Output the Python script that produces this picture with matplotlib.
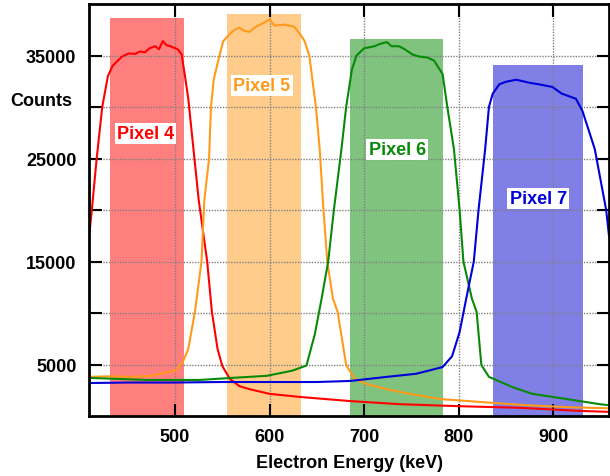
import matplotlib
matplotlib.use('Agg')
import matplotlib.pyplot as plt
from matplotlib.patches import Rectangle

plt.rcParams['font.family'] = ['Liberation Sans', 'DejaVu Sans']
plt.rcParams['font.weight'] = 'bold'

# Electron energy (keV) / counts for each pixel spectrum
red_energy = [409, 410, 412, 417, 423, 429, 434, 444, 451, 458, 463, 468, 473, 479, 483, 487, 491,
              495, 503, 507, 511, 514, 525, 534, 539, 545, 550, 558, 568, 579, 600, 632,
              685, 737, 801, 864, 927, 959]
red_counts = [17500, 18200, 20000, 24900, 30000, 33000, 34000, 34900, 35200, 35150, 35400, 35300,
              35700, 35900, 35600, 36400, 36000, 35900, 35600, 35100, 32700, 30800, 21000, 15000,
              10100, 6500, 4850, 3600, 2900, 2600, 2150, 1850, 1450, 1150, 950, 800, 500, 400]

orange_energy = [409, 430, 455, 475, 484, 500, 508, 514, 521, 528, 531, 536, 538, 541, 547,
                 551, 557, 563, 568, 573, 579, 584, 590, 600, 605, 615, 626, 633, 637, 642, 649,
                 653, 657, 661, 667, 672, 681, 690, 703, 724, 748, 780, 825, 871, 917, 959]
orange_counts = [3800, 3850, 3800, 3900, 4100, 4400, 5200, 6500, 10100, 15000, 21000, 25000,
                 30000, 32700, 35000, 36400, 37000, 37500, 37700, 37400, 37300, 37700, 38000, 38500,
                 37900, 38000, 37800, 37000, 36400, 35000, 30000, 25900, 20000, 15000, 11400, 10100,
                 4950, 3600, 3100, 2600, 2150, 1650, 1350, 1050, 850, 750]

green_energy = [409, 440, 470, 500, 526, 560, 597, 624, 639, 648, 655, 662, 668, 676, 681, 687,
                692, 700, 711, 716, 724, 729, 737, 743, 751, 758, 767, 774, 783, 788, 795, 801,
                805, 814, 819, 824, 832, 857, 878, 914, 949, 959]
green_counts = [3700, 3600, 3500, 3500, 3500, 3700, 3900, 4400, 4900, 8000, 11400, 15000, 20000,
                25900, 30000, 33600, 35000, 35700, 35900, 36100, 36300, 35900, 35900, 35600, 35100,
                34900, 34800, 34500, 33200, 30000, 25900, 20000, 15000, 11400, 10100, 4950, 3800,
                2800, 2150, 1650, 1150, 1050]

blue_energy = [409, 450, 500, 550, 600, 650, 685, 724, 755, 783, 793, 801, 808, 816, 821, 828,
               832, 836, 843, 850, 861, 875, 885, 899, 909, 924, 931, 944, 956, 959]
blue_counts = [3200, 3250, 3250, 3300, 3300, 3300, 3400, 3800, 4100, 4750, 5800, 8150, 11400,
               15000, 20000, 25900, 30000, 31300, 32200, 32450, 32650, 32350, 32200, 31950, 31300,
               30800, 29600, 25900, 20000, 17500]

# shaded energy windows (start, end, height) and labels
window_start = [431, 555, 685, 836]
window_end = [510, 633, 783, 931]
window_top = [38600, 39000, 36600, 34100]
labels = ['Pixel 4', 'Pixel 5', 'Pixel 6', 'Pixel 7']
label_x = [469, 592, 735, 884]
label_y = [27400, 32100, 25900, 21100]

line_colors = ['#ff0000', '#ff9a1a', '#088a08', '#0000d8']
fill_colors = ['#ff0000', '#ff9a1a', '#008800', '#0000cd']

fig = plt.figure(figsize=(6.1, 4.77), dpi=100)
ax = fig.add_axes([89/610, 1 - 417/477, 520/610, 412/477])

for i in range(4):
    ax.add_patch(Rectangle((window_start[i], 0), window_end[i] - window_start[i], window_top[i],
                           facecolor=fill_colors[i], alpha=0.5, edgecolor='none', zorder=1))

ax.plot(red_energy, red_counts, color=line_colors[0], lw=1.5, zorder=3)
ax.plot(orange_energy, orange_counts, color=line_colors[1], lw=1.5, zorder=3)
ax.plot(green_energy, green_counts, color=line_colors[2], lw=1.5, zorder=3)
ax.plot(blue_energy, blue_counts, color=line_colors[3], lw=1.5, zorder=3)

for i in range(4):
    ax.text(label_x[i], label_y[i], labels[i], color=line_colors[i], fontsize=13,
            fontweight='bold', ha='center', va='center', zorder=4,
            bbox=dict(facecolor='white', edgecolor='none', pad=1.5))

ax.set_xlim(409, 959)
ax.set_ylim(0, 40000)
ax.set_xticks([500, 600, 700, 800, 900])
ax.set_yticks([5000, 10000, 15000, 20000, 25000, 30000, 35000])
ax.set_yticklabels(['5000', '', '15000', '', '25000', '', '35000'])
ax.tick_params(direction='in', length=9, width=1.5, labelsize=13, top=True, right=True, pad=9)
ax.grid(True, color='#808080', linestyle=(0, (1, 1)), linewidth=1, zorder=2)
ax.set_axisbelow(False)
for s in ax.spines.values():
    s.set_linewidth(2)
    s.set_zorder(5)

ax.set_xlabel('Electron Energy (keV)', fontsize=13, fontweight='bold', labelpad=6)
fig.text(10/610, 1 - 102/477, 'Counts', fontsize=13, fontweight='bold', ha='left', va='center')

fig.savefig('out.png', dpi=100)
